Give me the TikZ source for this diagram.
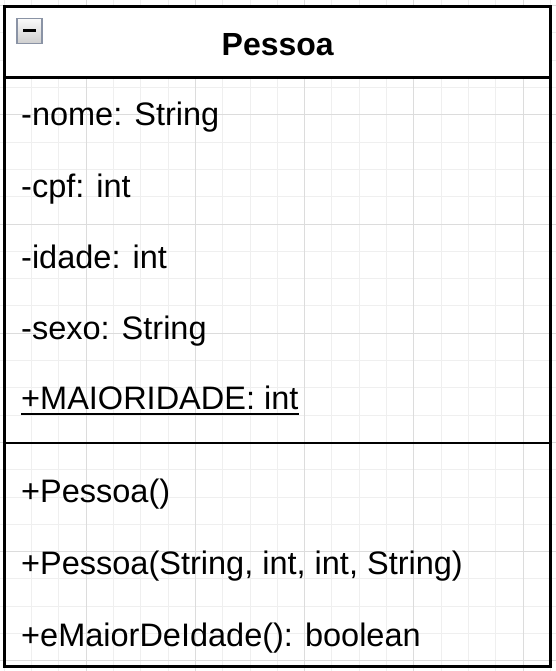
\documentclass[tikz,border=0pt]{standalone}
\usepackage{fontspec}
\setmainfont{Liberation Sans}
\usetikzlibrary{positioning}
\definecolor{gridminor}{HTML}{EFEFEF}
\definecolor{gridmajor}{HTML}{DCDCDC}
\definecolor{iconedge}{HTML}{8A93A5}

\begin{document}
\begin{tikzpicture}[x=1pt,y=-1pt]
		\tikzset{member/.style = {anchor=base west, inner sep=0pt, font=\fontsize{32.5}{38}\selectfont}}
		\tikzset{classname/.style = {anchor=base, inner sep=0pt, font=\fontsize{32}{38}\selectfont\bfseries}}
		\tikzset{frame/.style = {line width=3pt}}
		
		\useasboundingbox (0,0) rectangle (556,671);
		
		% grid
		\foreach \i in {0,...,20}
			\draw[gridminor, line width=1pt] ({4.3+27.3*\i},0) -- ({4.3+27.3*\i},671);
		\foreach \j in {0,...,24}
			\draw[gridminor, line width=1pt] (0,{5.6+27.3*\j}) -- (556,{5.6+27.3*\j});
		\foreach \i in {3,7,11,15,19}
			\draw[gridmajor, line width=1pt] ({4.3+27.3*\i},0) -- ({4.3+27.3*\i},671);
		\foreach \j in {0,4,...,24}
			\draw[gridmajor, line width=1pt] (0,{5.6+27.3*\j}) -- (556,{5.6+27.3*\j});
		
		\coordinate (nw) at (4.7,7);
		\coordinate (se) at (550.7,666);
		\coordinate (hl) at (4.7,78);
		\coordinate (hr) at (550.7,78);
		\coordinate (sl) at (4.7,443);
		\coordinate (sr) at (550.7,443);
		
		\fill[white] (nw) rectangle (hr);
		
		% collapse icon
		\node[draw=iconedge, line width=1.5pt, top color=gray!4, bottom color=gray!38,
			minimum width=25pt, minimum height=25pt, inner sep=0pt] (icon) at (29.5,31) {};
		\draw[line width=3pt] ([xshift=-6.5pt]icon.center) -- ([xshift=6.5pt]icon.center);
		
		\node[classname] (name) at (277.7,55.7) {Pessoa};
		
		\node[member] (a1) at (21,126)   {-nome: String};
		\node[member] (a2) at (21,197)   {-cpf: int};
		\node[member] (a3) at (21,268)   {-idade: int};
		\node[member] (a4) at (21,339)   {-sexo: String};
		\node[member] (a5) at (21,409.5) {+MAIORIDADE: int};
		\draw[line width=2pt] ([yshift=-4pt]a5.base west) -- ([yshift=-4pt]a5.base east);
		
		\node[member] (m1) at (21,502.7) {+Pessoa()};
		\node[member] (m2) at (21,574)   {+Pessoa(String, int, int, String)};
		\node[member] (m3) at (21,646.5) {+eMaiorDeIdade(): boolean};
		
		\draw[frame] (nw) rectangle (se);
		\draw[frame] (hl) -- (hr);
		\draw[line width=2.5pt] (sl) -- (sr);
\end{tikzpicture}
\end{document}
